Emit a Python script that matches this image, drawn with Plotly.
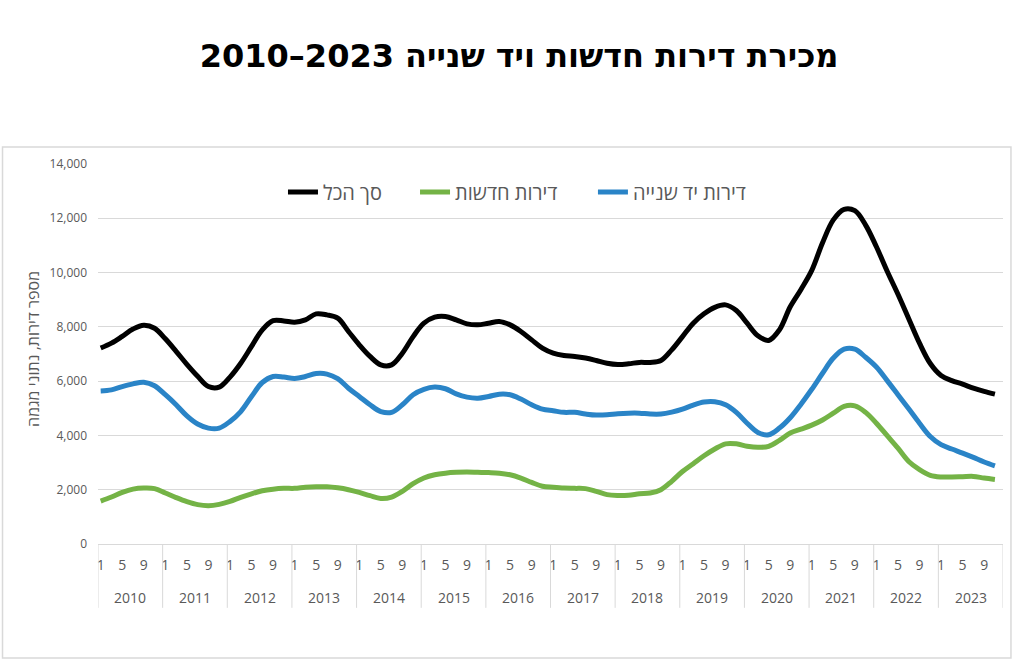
import plotly.graph_objects as go

# ---------------- data (bi-monthly samples) ----------------
years = list(range(2010, 2024))
sample_months = [1, 3, 5, 7, 9, 11]
month_ticks = [1, 5, 9]

series_names = ["סך הכל", "דירות חדשות", "דירות יד שנייה"]
series_colors = ["#000000", "#74b346", "#2a84c7"]

total = [
    7220, 7400, 7650, 7920, 8060, 7950,   # 2010
    7560, 7100, 6620, 6180, 5800, 5780,   # 2011
    6150, 6660, 7280, 7890, 8230, 8220,   # 2012
    8170, 8260, 8480, 8440, 8320, 7830,   # 2013
    7340, 6910, 6600, 6600, 7030, 7640,   # 2014
    8135, 8356, 8380, 8258, 8110, 8074,   # 2015
    8135, 8196, 8074, 7830, 7520, 7215,   # 2016
    7030, 6945, 6910, 6850, 6760, 6660,   # 2017
    6615, 6640, 6690, 6690, 6760, 7150,   # 2018
    7640, 8135, 8480, 8720, 8810, 8600,   # 2019
    8135, 7670, 7500, 7890, 8740, 9380,   # 2020
    10080, 11100, 11940, 12330, 12280, 11750,  # 2021
    10950, 10050, 9200, 8300, 7400, 6650,  # 2022
    6210, 6020, 5890, 5740, 5620, 5520,   # 2023
]

new_apts = [
    1580, 1730, 1900, 2020, 2060, 2040,   # 2010
    1880, 1710, 1560, 1450, 1410, 1460,   # 2011
    1570, 1720, 1850, 1960, 2020, 2050,   # 2012
    2050, 2090, 2110, 2110, 2070, 2000,   # 2013
    1900, 1780, 1680, 1730, 1940, 2220,   # 2014
    2430, 2550, 2610, 2640, 2650, 2640,   # 2015
    2630, 2610, 2550, 2430, 2270, 2130,   # 2016
    2090, 2060, 2050, 2040, 1940, 1820,   # 2017
    1790, 1800, 1850, 1880, 2000, 2310,   # 2018
    2670, 2960, 3250, 3500, 3690, 3690,   # 2019
    3600, 3560, 3600, 3820, 4090, 4230,   # 2020
    4380, 4570, 4820, 5070, 5090, 4850,   # 2021
    4450, 3990, 3530, 3040, 2740, 2530,   # 2022
    2470, 2470, 2480, 2490, 2430, 2380,   # 2023
]

second_hand = [
    5640, 5680, 5800, 5900, 5960, 5830,   # 2010
    5500, 5130, 4720, 4420, 4270, 4270,   # 2011
    4515, 4880, 5435, 5950, 6170, 6150,   # 2012
    6100, 6170, 6280, 6260, 6090, 5740,   # 2013
    5435, 5130, 4880, 4850, 5130, 5500,   # 2014
    5700, 5780, 5720, 5530, 5410, 5370,   # 2015
    5435, 5520, 5500, 5340, 5130, 4970,   # 2016
    4910, 4850, 4850, 4790, 4750, 4760,   # 2017
    4800, 4820, 4820, 4790, 4790, 4860,   # 2018
    4970, 5120, 5230, 5240, 5130, 4850,   # 2019
    4450, 4110, 4025, 4270, 4650, 5150,   # 2020
    5700, 6290, 6850, 7180, 7180, 6880,   # 2021
    6520, 6020, 5500, 4980, 4450, 3960,   # 2022
    3660, 3500, 3350, 3190, 3020, 2880,   # 2023
]

y_ticks = [0, 2000, 4000, 6000, 8000, 10000, 12000, 14000]

title_text = "2010–2023 מכירת דירות חדשות ויד שנייה"
y_title = "מספר דירות, נתוני מגמה"

# ---------------- figure ----------------
# month index on the axis: 0 = Jan 2010
x_idx = [yi * 12 + (m - 1) for yi in range(len(years)) for m in sample_months]

legend_ids = ["legend", "legend2", "legend3"]
legend_x = [0.2044, 0.3503, 0.5469]

fig = go.Figure()
for name, vals, col, lid in zip(series_names, [total, new_apts, second_hand],
                                series_colors, legend_ids):
    fig.add_trace(go.Scatter(
        x=x_idx, y=vals, name=name, mode="lines", legend=lid,
        line=dict(color=col, width=5, shape="spline", smoothing=1.0),
        hoverinfo="skip",
    ))

tick_vals = [yi * 12 + (m - 1) for yi in range(len(years)) for m in month_ticks]
tick_text = [str(m) for _ in years for m in month_ticks]

GRAY = "#d9d9d9"
TXT = "#595959"
n_months = len(years) * 12

legend_common = dict(orientation="h", y=0.926, yanchor="middle", xanchor="left",
                     font=dict(size=20, color=TXT), bgcolor="rgba(0,0,0,0)",
                     itemwidth=30)

fig.update_layout(
    width=1024, height=661,
    paper_bgcolor="white", plot_bgcolor="white",
    margin=dict(l=98, r=21, t=164, b=117),
    font=dict(family="Open Sans, Liberation Sans, Arial, sans-serif", color=TXT),
    title=dict(
        text=title_text, x=0.507, xanchor="center", y=1 - 56 / 661, yanchor="middle",
        font=dict(family="DejaVu Sans, Liberation Sans, sans-serif", size=32, color="#000000",
                  weight="bold"),
    ),
    showlegend=True,
    legend=dict(x=legend_x[0], **legend_common),
    legend2=dict(x=legend_x[1], **legend_common),
    legend3=dict(x=legend_x[2], **legend_common),
    xaxis=dict(
        range=[-0.5, n_months - 0.5], tickmode="array", tickvals=tick_vals,
        ticktext=tick_text, showgrid=False, zeroline=False, ticks="",
        tickfont=dict(size=14, color=TXT), showline=True, linecolor=GRAY, linewidth=1,
        ticklabelstandoff=8,
    ),
    yaxis=dict(
        range=[0, 14000], tickmode="array", tickvals=y_ticks, tickformat=",d",
        showgrid=True, gridcolor=GRAY, gridwidth=1, zeroline=False, ticks="",
        tickfont=dict(size=12, color=TXT), showline=False, ticklabelstandoff=10,
    ),
)

# year separators and year labels
for yi in range(len(years) + 1):
    fig.add_shape(type="line", xref="x", yref="paper", x0=yi * 12 - 0.5, x1=yi * 12 - 0.5,
                  y0=0, y1=-0.168, line=dict(color=GRAY, width=1))
for yi, yr in enumerate(years):
    fig.add_annotation(x=yi * 12 + 5.5, xref="x", y=-0.142, yref="paper", text=str(yr),
                       showarrow=False, font=dict(size=14, color=TXT), yanchor="middle")

# y axis title
fig.add_annotation(x=-0.072, xref="paper", y=0.513, yref="paper", text=y_title,
                   textangle=-90, showarrow=False, font=dict(size=16, color=TXT),
                   xanchor="center", yanchor="middle")

# outer chart frame
fig.add_shape(type="rect", xref="paper", yref="paper", x0=-0.1055, x1=1.0088,
              y0=-0.300, y1=1.0447, line=dict(color=GRAY, width=1.5), layer="below")

fig.write_html("out.html", config={"displayModeBar": False},
               post_script="document.body.style.margin='0px';")
